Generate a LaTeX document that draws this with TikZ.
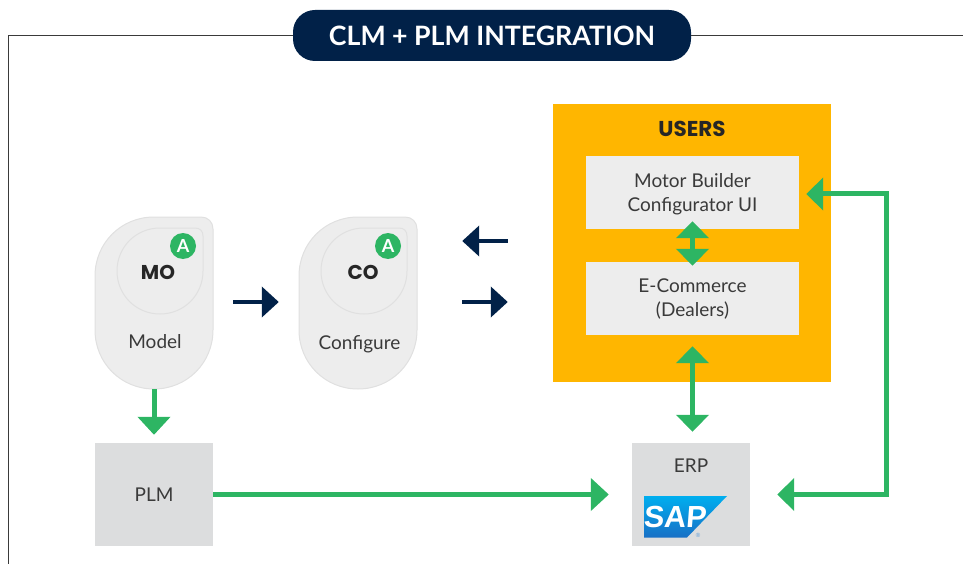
\documentclass[tikz,border=0pt]{standalone}
\usepackage{fontspec}
\setmainfont{Lato}
\newfontfamily\headfont{Poppins}
\newfontfamily\logofont{Liberation Sans}
\usetikzlibrary{
    positioning,
    calc,
    arrows.meta
}
\definecolor{navy}{HTML}{012148}
\definecolor{leaf}{HTML}{2DB563}
\definecolor{amber}{HTML}{FFB600}
\definecolor{pale}{HTML}{EDEDED}
\definecolor{slab}{HTML}{DCDDDE}
\definecolor{rim}{HTML}{E0E0E0}
\definecolor{ink}{HTML}{3A3A3A}
\definecolor{saptop}{HTML}{00AEEF}
\definecolor{sapbot}{HTML}{1870C5}
\tikzset{
  frame/.style = {
      draw=ink,
      line width=1pt
  },
  title/.style = {
      fill=navy,
      rounded corners=22pt,
      text=white,
      font=\fontsize{26.7}{30}\selectfont\bfseries,
      minimum width=398pt,
      minimum height=51pt,
      inner sep=0pt
  },
  basic/.style = {
      font=\fontsize{19}{24}\selectfont,
      text=ink,
      align=center,
      inner sep=0pt
  },
  pale box/.style = {
      fill=pale,
      minimum width=213pt,
      minimum height=73pt,
      inner sep=0pt
  },
  slab box/.style = {
      basic,
      fill=slab,
      minimum width=118pt,
      minimum height=103pt
  },
  users box/.style = {
      fill=amber,
      minimum width=278pt,
      minimum height=278pt,
      inner sep=0pt
  },
  shell box/.style = {
      minimum width=118pt,
      minimum height=172pt,
      inner sep=0pt
  },
  code/.style = {
      font=\headfont\fontsize{20}{22}\selectfont\bfseries,
      text=black!85
  },
  badge/.style = {
      circle,
      fill=leaf,
      text=white,
      font=\fontsize{18}{18}\selectfont\bfseries,
      minimum size=26pt,
      inner sep=0pt
  },
  step arrow/.style = {
      navy,
      line width=4pt,
      -{Triangle[width=30pt,length=17pt]}
  },
  link/.style = {
      leaf,
      line width=5pt,
      -{Triangle[width=32pt,length=18pt]}
  },
  both link/.style = {
      leaf,
      line width=5pt,
      {Triangle[width=32pt,length=17pt]}-{Triangle[width=32pt,length=17pt]}
  },
  shell/.pic = {
      \draw[fill=pale, draw=rim, line width=1pt]
          (0,59) .. controls (0,26) and (26,0) .. (59,0) -- (106,0)
          .. controls (113,0) and (118,5) .. (118,12) -- (118,113)
          .. controls (118,146) and (92,172) .. (59,172)
          .. controls (26,172) and (0,146) .. (0,113) -- cycle;
      \draw[draw=rim, line width=1pt]
          (22,54) .. controls (22,30) and (41,11) .. (65,11) -- (100,11)
          .. controls (105,11) and (108,14) .. (108,19) -- (108,54)
          .. controls (108,78) and (89,97) .. (65,97)
          .. controls (41,97) and (22,78) .. (22,54) -- cycle;
  }
}
\begin{document}
\begin{tikzpicture}[x=1pt, y=-1pt]
        \useasboundingbox (0,0) rectangle (963,564);
        \node[title] (title) at (492,35.5) {CLM + PLM INTEGRATION};
        \draw[frame] (title.west |- 0,36) -- (8,36) -- (8,564);
        \draw[frame] (title.east |- 0,36) -- (963,36);
        % Model and Configure
        \pic at (95,217) {shell};
        \pic at (299,217) {shell};
        \node[shell box] (mo) at (154,303) {};
        \node[shell box] (co) at (358,303) {};
        \node[code] (mocode) at (158,272) {MO};
        \node[code] (cocode) at (363,272) {CO};
        \node[badge] (moa) at (183,246) {A};
        \node[badge] (coa) at (388,246) {A};
        \node[basic] (model) at (155,342) {Model};
        \node[basic] (configure) at (359.5,344) {Configure};
        % Users
        \node[users box] (users) at (692,243) {};
        \node[font=\headfont\fontsize{21.5}{22}\selectfont\bfseries, text=black!85] (userslabel) at (692,129) {USERS};
        \node[pale box] (ui) at (692.5,192.5) {};
        \node[pale box] (shop) at (692.5,298.5) {};
        \node[basic] (uilabel) at (692.5,194.5) {Motor Builder\\Configurator UI};
        \node[basic] (shoplabel) at (692.5,299.5) {E-Commerce\\(Dealers)};
        % Systems
        \node[slab box] (plm) at (154,494.5) {PLM};
        \node[slab box] (erp) at (691,494.5) {};
        \node[basic] (erplabel) at (691,465.5) {ERP};
        \shade[top color=saptop, bottom color=sapbot] (644,496) -- (727,496) -- (687,537.5) -- (644,537.5) -- cycle;
        \node[font=\logofont\fontsize{30.5}{30.5}\selectfont\bfseries, text=white, xslant=0.08, inner sep=0pt] (sap) at (675.5,517) {SAP};
        \node[font=\logofont\fontsize{6}{6}\selectfont, text=sapbot!70, inner sep=0pt] (sapmark) at (698,535.5) {®};
        % Edges
        \coordinate (upper) at (0,241);
        \coordinate (lower) at (0,302);
        \draw[step arrow, shorten <=20pt, shorten >=20pt] (mo.east |- lower) -- (co.west |- lower);
        \draw[step arrow, shorten <=45pt, shorten >=45pt] (users.west |- upper) -- (co.east |- upper);
        \draw[step arrow, shorten <=45pt, shorten >=45pt] (co.east |- lower) -- (users.west |- lower);
        \draw[link, shorten >=8pt] (mo.south) -- (plm.north);
        \draw[both link, shorten <=-8pt, shorten >=-4pt] (ui.south) -- (shop.north);
        \draw[both link, shorten <=11pt, shorten >=11pt] (shop.south) -- (shop.south |- erp.north);
        \draw[link, shorten >=23pt] (plm.east) -- (erp.west);
        \coordinate (bend) at (886,194);
        \draw[both link, shorten <=7pt, shorten >=27pt] (ui.east |- bend) -- (bend) -- (bend |- erp.east) -- (erp.east);
\end{tikzpicture}
\end{document}
